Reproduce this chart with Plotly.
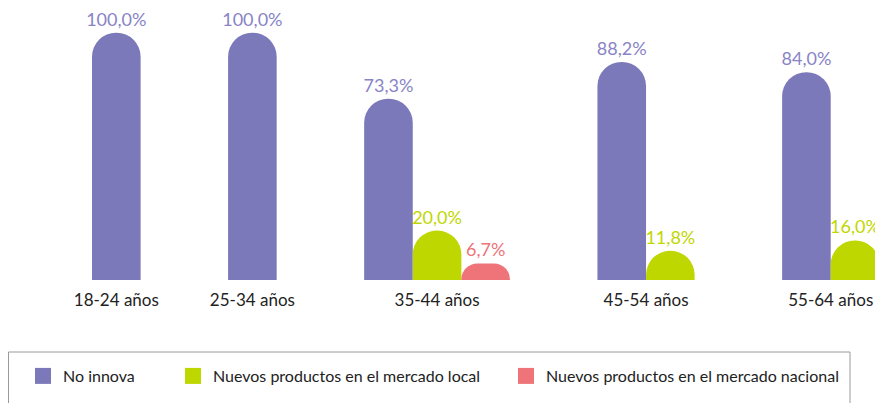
import plotly.graph_objects as go

categories = ["18-24 años", "25-34 años", "35-44 años", "45-54 años", "55-64 años"]
series_names = ["No innova", "Nuevos productos en el mercado local", "Nuevos productos en el mercado nacional"]
no_innova = [100.0, 100.0, 73.3, 88.2, 84.0]
mercado_local = [0, 0, 20.0, 11.8, 16.0]
mercado_nacional = [0, 0, 6.7, 0, 0]
colors = ["#7C79BA", "#BFD700", "#EE7479"]
label_colors = ["#8884C6", "#BFD700", "#EE7479"]

series_values = [no_innova, mercado_local, mercado_nacional]

GAP = 1.8  # gap between groups, in bar widths
xs = [[] for _ in series_values]
ys = [[] for _ in series_values]
centers = []
pos = 0.0
for i, cat in enumerate(categories):
    present = [s for s in range(len(series_values)) if series_values[s][i] > 0]
    for k, s in enumerate(present):
        xs[s].append(pos + k + 0.5)
        ys[s].append(series_values[s][i])
    centers.append(pos + len(present) / 2)
    pos += len(present) + GAP

def fmt(v):
    return f"{v:.1f}".replace(".", ",") + "%"

fig = go.Figure()
legend_ids = ["legend", "legend2", "legend3"]
for s, name in enumerate(series_names):
    fig.add_trace(go.Bar(
        x=xs[s], y=ys[s], name=name, width=1.0, showlegend=False,
        marker=dict(color=colors[s], cornerradius="50%", line=dict(width=0)),
        text=[fmt(v) for v in ys[s]], textposition="outside", constraintext="none",
        textfont=dict(color=label_colors[s], size=18, family="Lato"),
        cliponaxis=False,
    ))
    # legend entry with a square swatch
    fig.add_trace(go.Scatter(
        x=[None], y=[None], mode="markers", name=name,
        marker=dict(symbol="square", color=colors[s], size=16),
        legend=legend_ids[s], showlegend=True,
    ))

# page has an 8px body margin, so the figure is drawn 8px smaller
W, H = 875, 395
px_per_unit = 48.6
left_px = 84
base_px = 272
fig.update_layout(
    width=W, height=H,
    margin=dict(l=0, r=0, t=0, b=H - base_px, autoexpand=False),
    paper_bgcolor="white", plot_bgcolor="white",
    barmode="overlay",
    font=dict(family="Lato", color="#222222"),
    xaxis=dict(
        range=[-left_px / px_per_unit, (W - left_px) / px_per_unit],
        tickvals=centers, ticktext=categories,
        tickfont=dict(size=17, color="#222222"),
        showgrid=False, zeroline=False, showline=False,
        ticks="outside", ticklen=5, tickcolor="rgba(0,0,0,0)",
    ),
    yaxis=dict(range=[0, 110], visible=False),
    showlegend=True,
    shapes=[dict(type="rect", xref="paper", yref="paper",
                 x0=0.5 / W, x1=842 / W, y0=(base_px - 344) / base_px, y1=(base_px - 420) / base_px,
                 line=dict(color="#9a9a9a", width=1), fillcolor="rgba(0,0,0,0)")],
)
leg_common = dict(orientation="h", yanchor="middle", xanchor="left",
                  xref="container", yref="container", y=(H - 368) / H,
                  bgcolor="rgba(0,0,0,0)", font=dict(size=16, family="Lato", color="#222222"))
fig.update_layout(
    legend=dict(x=15 / W, **leg_common),
    legend2=dict(x=165 / W, **leg_common),
    legend3=dict(x=498 / W, **leg_common),
)
fig.write_html("out.html")
